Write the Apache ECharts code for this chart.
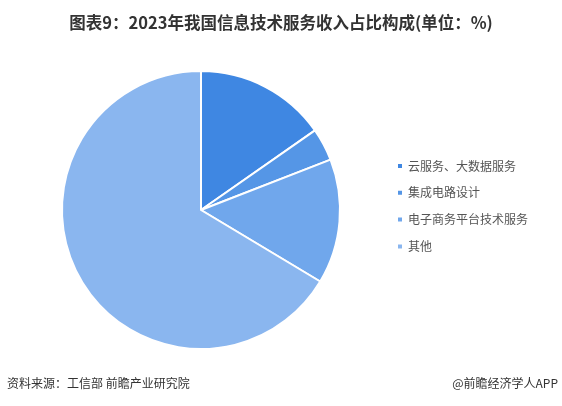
<!DOCTYPE html>
<html><head><meta charset="utf-8">
<script src="https://cdn.jsdelivr.net/npm/echarts@6/dist/echarts.min.js"></script>
<style>html,body{margin:0;padding:0;background:#fff}#c{width:562px;height:406px}</style>
</head><body><div id="c"></div>
<script>
const categories = ['云服务、大数据服务','集成电路设计','电子商务平台技术服务','其他'];
const values = [15.3, 3.8, 14.5, 66.4];
const colors = ['#3f87e2','#5596e6','#70a7ec','#8ab6ef'];
const chart = echarts.init(document.getElementById('c'));
chart.setOption({
  animation:false,
  title:{text:'图表9：2023年我国信息技术服务收入占比构成(单位：%)',left:'center',top:9,
    textStyle:{fontSize:16.5,fontWeight:'bold',color:'#333',fontFamily:'Noto Sans CJK SC'}},
  graphic:[
    {type:'text',left:7,top:377,style:{text:'资料来源：工信部 前瞻产业研究院',fontSize:12,fill:'#333',fontFamily:'Noto Sans CJK SC'}},
    {type:'text',right:4,top:377,style:{text:'@前瞻经济学人APP',fontSize:12,fill:'#333',fontFamily:'Noto Sans CJK SC'}}
  ],
  legend:{orient:'vertical',left:396,top:160,padding:0,itemWidth:6,itemHeight:6,itemGap:14.8,icon:'rect',
    textStyle:{fontSize:12,color:'#555',fontFamily:'Noto Sans CJK SC'},data:categories},
  series:[{type:'pie',center:[201,210],radius:[0,139],startAngle:90,clockwise:true,
    label:{show:false},labelLine:{show:false},
    itemStyle:{borderColor:'#fff',borderWidth:2},
    data:categories.map((n,i)=>({name:n,value:values[i],itemStyle:{color:colors[i]}}))}]
});
</script></body></html>
